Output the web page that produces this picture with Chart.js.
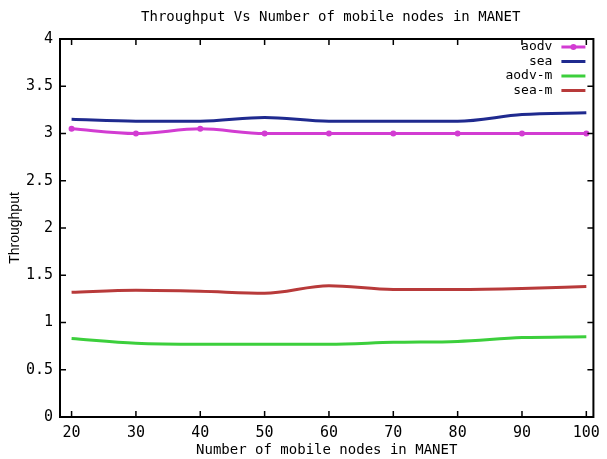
<!DOCTYPE html>
<html>
<head>
<meta charset="utf-8">
<script src="https://cdn.jsdelivr.net/npm/chart.js@4/dist/chart.umd.min.js"></script>
<style>
html,body{margin:0;padding:0;background:#fff;}
#wrap{width:607px;height:459px;position:relative;}
</style>
</head>
<body>
<div id="wrap"><canvas id="c" width="607" height="459"></canvas></div>
<script>
const nodes = [20, 30, 40, 50, 60, 70, 80, 90, 100];
const aodv  = [3.05, 3.00, 3.05, 3.00, 3.00, 3.00, 3.00, 3.00, 3.00];
const sea   = [3.15, 3.13, 3.13, 3.17, 3.13, 3.13, 3.13, 3.20, 3.22];
const aodvM = [0.83, 0.78, 0.77, 0.77, 0.77, 0.79, 0.80, 0.84, 0.85];
const seaM  = [1.32, 1.34, 1.33, 1.31, 1.39, 1.35, 1.35, 1.36, 1.38];
const yTicks = [0, 0.5, 1, 1.5, 2, 2.5, 3, 3.5, 4];
const xTicks = [20, 30, 40, 50, 60, 70, 80, 90, 100];
const titleText = 'Throughput Vs Number of mobile nodes in MANET';

const MONO = '"DejaVu Sans Mono", "Liberation Mono", monospace';

function pts(vals){ return nodes.map((n,i)=>({x:n,y:vals[i]})); }

const framePlugin = {
  id:'frame',
  afterDatasetsDraw(chart){
    const {ctx, chartArea:a, scales:{x,y}} = chart;
    ctx.save();
    // title
    ctx.fillStyle='#000';
    ctx.font='14px '+MONO;
    ctx.textAlign='center';
    ctx.textBaseline='middle';
    ctx.fillText(titleText, (a.left+a.right)/2 + 4, 17);
    ctx.strokeStyle='#000';
    ctx.lineWidth=2;
    ctx.strokeRect(a.left, a.top, a.right-a.left, a.bottom-a.top);
    ctx.lineWidth=1.5;
    const L=6;
    ctx.beginPath();
    xTicks.forEach(v=>{
      const px=x.getPixelForValue(v);
      ctx.moveTo(px,a.bottom); ctx.lineTo(px,a.bottom-L);
      ctx.moveTo(px,a.top); ctx.lineTo(px,a.top+L);
    });
    yTicks.forEach(v=>{
      const py=y.getPixelForValue(v);
      ctx.moveTo(a.left,py); ctx.lineTo(a.left+L,py);
      ctx.moveTo(a.right,py); ctx.lineTo(a.right-L,py);
    });
    ctx.stroke();
    // legend
    ctx.font = '13px ' + MONO;
    ctx.textAlign='right';
    ctx.textBaseline='middle';
    const textRight = a.right - 41;
    const lx0 = a.right - 32, lx1 = a.right - 8;
    chart.data.datasets.forEach((ds,i)=>{
      const yy = a.top + 8 + i*14.5;
      ctx.fillStyle='#000';
      ctx.fillText(ds.label, textRight, yy);
      ctx.strokeStyle=ds.borderColor;
      ctx.lineWidth=3;
      ctx.beginPath(); ctx.moveTo(lx0,yy); ctx.lineTo(lx1,yy); ctx.stroke();
      if (ds.pointRadius>0){
        ctx.fillStyle=ds.borderColor;
        ctx.beginPath(); ctx.arc((lx0+lx1)/2,yy,3,0,Math.PI*2); ctx.fill();
      }
    });
    ctx.restore();
  }
};

new Chart(document.getElementById('c'), {
  type:'line',
  data:{
    datasets:[
      {label:'aodv', data:pts(aodv), borderColor:'#d23cd2', backgroundColor:'#d23cd2', borderWidth:3, pointRadius:3, pointBorderWidth:0, cubicInterpolationMode:'monotone'},
      {label:'sea', data:pts(sea), borderColor:'#1f2a8f', backgroundColor:'#1f2a8f', borderWidth:3, pointRadius:0, cubicInterpolationMode:'monotone'},
      {label:'aodv-m', data:pts(aodvM), borderColor:'#3ccf3c', backgroundColor:'#3ccf3c', borderWidth:3, pointRadius:0, cubicInterpolationMode:'monotone'},
      {label:'sea-m', data:pts(seaM), borderColor:'#b83a3a', backgroundColor:'#b83a3a', borderWidth:3, pointRadius:0, cubicInterpolationMode:'monotone'}
    ]
  },
  options:{
    responsive:false,
    animation:false,
    layout:{padding:{left:0,right:9,top:39,bottom:0}},
    plugins:{
      legend:{display:false},
      tooltip:{enabled:false},
      title:{display:false}
    },
    scales:{
      x:{
        type:'linear', min:18.2, max:101.1,
        afterBuildTicks(s){ s.ticks = xTicks.map(v=>({value:v})); },
        grid:{display:false, drawTicks:false},
        border:{display:false},
        ticks:{color:'#000', font:{family:MONO,size:15}, padding:7, maxRotation:0, autoSkip:false,
          callback:v=>String(v)},
        title:{display:true, text:'Number of mobile nodes in MANET', color:'#000',
          font:{family:MONO,size:14}, padding:{top:1,bottom:0}},
        afterFit(s){ s.height = 42; }
      },
      y:{
        min:0, max:4,
        afterBuildTicks(s){ s.ticks = yTicks.map(v=>({value:v})); },
        grid:{display:false, drawTicks:false},
        border:{display:false},
        ticks:{color:'#000', font:{family:MONO,size:15}, padding:7, autoSkip:false,
          callback:v=>String(v)},
        title:{display:true, text:'Throughput', color:'#000',
          font:{family:'"Liberation Sans", Arial, sans-serif',size:14}, padding:{top:7,bottom:0}},
        afterFit(s){ s.width = 60; }
      }
    }
  },
  plugins:[framePlugin]
});
</script>
</body>
</html>
